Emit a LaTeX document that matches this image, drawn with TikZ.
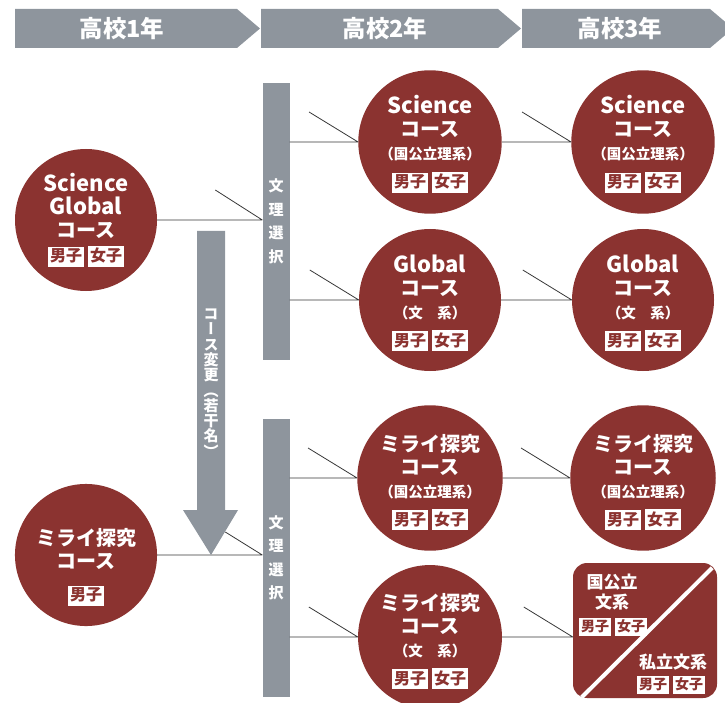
\documentclass[tikz,border=0pt]{standalone}
\usepackage{fontspec}
\setmainfont{Noto Sans CJK JP}
\usepackage{tikz}
\usetikzlibrary{positioning,calc}

\definecolor{crs}{RGB}{139,51,48}
\definecolor{bargray}{RGB}{142,149,157}
\definecolor{linegray}{RGB}{55,55,55}

% white tags for boys / girls
\newcommand{\sextag}[2][16]{{\setlength{\fboxsep}{2pt}\colorbox{white}{\textcolor{crs}{\bfseries\fontsize{#1}{#1}\selectfont\rule[-3pt]{0pt}{14pt}#2}}}}
\newcommand{\both}[1][16]{\sextag[#1]{男子}\hspace{4pt}\sextag[#1]{女子}}
\newcommand{\topgap}[1]{\rule{0pt}{#1}}
\newcommand{\kei}[1]{{\fontsize{14.5}{14.5}\selectfont #1}}

\begin{document}
\begin{tikzpicture}[
    x=1pt,
    y=-1pt,
    course/.style={circle, fill=crs, minimum size=142pt, inner sep=0pt, text=white, align=center,
        font=\bfseries\fontsize{20}{23}\selectfont},
    bar/.style={fill=bargray, minimum width=27pt, inner sep=0pt, text=white, align=center,
        font=\bfseries\fontsize{15}{23.5}\selectfont},
    conn/.style={draw=linegray, line width=0.8pt, line join=bevel}
]
    \useasboundingbox (0,0) rectangle (725,703);

    % year headers
    \foreach \a/\b/\c/\n in {15/237/122/1, 261/498/385/2, 522/710/620/3} {
        \fill[bargray] (\a,9) -- (\b,9) -- (\b+23,28.5) -- (\b,48) -- (\a,48) -- cycle;
        \node[text=white, font=\bfseries\fontsize{23.5}{24}\selectfont] (year\n) at (\c,28.5) {高校{\n}年};
    }

    % first year
    \node[course] (sg1) at (86,220) {{\fontsize{22}{23}\selectfont Science}\\{\fontsize{22}{23}\selectfont Global}\\コース\\[1pt]\both};
    \node[course] (mr1) at (86,555) {\topgap{41pt}ミライ探究\\コース\\[9pt]\sextag{男子}};

    % choice bars
    \node[bar, minimum height=277pt] (bar1) at (276,221.5) {文\\理\\選\\択};
    \node[bar, minimum height=278pt] (bar2) at (276,558) {文\\理\\選\\択};

    % second year
    \node[course] (sc2) at (430,142) {{\fontsize{22}{23}\selectfont\topgap{23pt}Science}\\コース\\\kei{（国公立理系）}\\[5pt]\both};
    \node[course] (gl2) at (430,300) {{\fontsize{22}{23}\selectfont\topgap{23pt}Global}\\コース\\\kei{（文　系）}\\[5pt]\both};
    \node[course] (mi2) at (430,478) {\topgap{25pt}ミライ探究\\コース\\\kei{（国公立理系）}\\[5pt]\both};
    \node[course] (mb2) at (430,637) {\topgap{25pt}ミライ探究\\コース\\\kei{（文　系）}\\[5pt]\both};

    % third year
    \node[course] (sc3) at (643,142) {{\fontsize{22}{23}\selectfont\topgap{23pt}Science}\\コース\\\kei{（国公立理系）}\\[5pt]\both};
    \node[course] (gl3) at (643,300) {{\fontsize{22}{23}\selectfont\topgap{23pt}Global}\\コース\\\kei{（文　系）}\\[5pt]\both};
    \node[course] (mi3) at (643,478) {\topgap{25pt}ミライ探究\\コース\\\kei{（国公立理系）}\\[5pt]\both};
    \node[rectangle, rounded corners=14pt, fill=crs, minimum width=144pt, minimum height=135pt] (bun3) at (645,630.5) {};
    \draw[white, line width=4pt] ([shift={(-5,5)}]bun3.north east) -- ([shift={(9,-1)}]bun3.south west);
    \node[text=white, align=center, font=\bfseries\fontsize{17}{20}\selectfont] (pub) at (612,592) {国公立\\文系};
    \node (pubtag) at (613,627) {\both[14]};
    \node[text=white, font=\bfseries\fontsize{17}{20}\selectfont] (pri) at (673,662) {私立文系};
    \node (pritag) at (671,685) {\both[14]};

    % connectors
    \draw[conn] (sg1.east) -- (sg1.east -| bar1.west) -- ++(-47,-30);
    \draw[conn] (mr1.east) -- (mr1.east -| bar2.west) -- ++(-37,-23);
    \draw[conn] (bar1.east |- sc2.west) -- (sc2.west) -- ++(-49,-30);
    \draw[conn] (bar1.east |- gl2.west) -- (gl2.west) -- ++(-49,-30);
    \draw[conn] (bar2.east |- mi2.west) -- (mi2.west) -- ++(-49,-30);
    \draw[conn] (bar2.east |- mb2.west) -- (mb2.west) -- ++(-49,-30);
    \draw[conn] (sc2.east) -- (sc3.west) -- ++(-49,-30);
    \draw[conn] (gl2.east) -- (gl3.west) -- ++(-49,-30);
    \draw[conn] (mi2.east) -- (mi3.west) -- ++(-49,-30);
    \draw[conn] (mb2.east) -- (mb2.east -| bun3.west) -- ++(-49,-30);

    % course change arrow
    \fill[bargray] (197,231) -- (225,231) -- (225,510) -- (238,510) -- (211,555) -- (183,510) -- (197,510) -- cycle;
    \node[text=white, align=center, font=\bfseries\fontsize{15}{15.3}\selectfont\addfontfeature{RawFeature=+vert}] (change) at (211,383)
        {コ\\ー\\ス\\変\\更\\（\\若\\干\\名\\）};
\end{tikzpicture}
\end{document}
